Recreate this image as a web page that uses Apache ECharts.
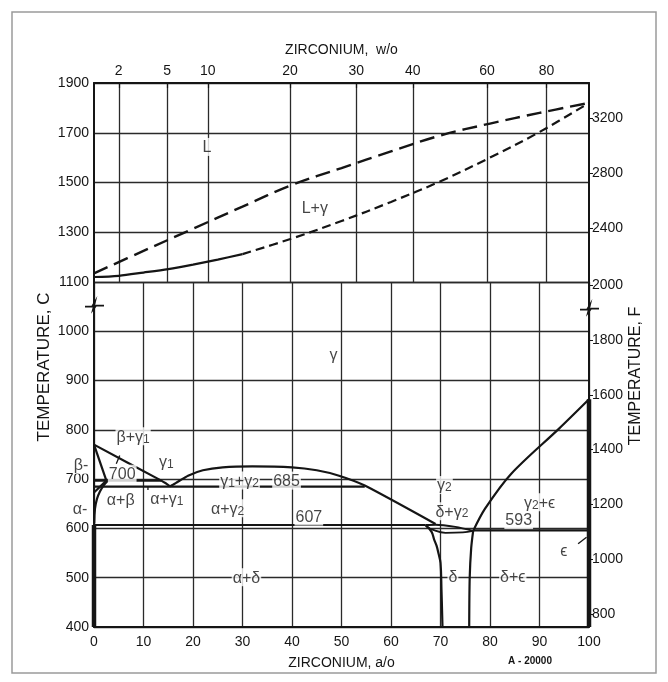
<!DOCTYPE html>
<html><head><meta charset="utf-8">
<script src="https://cdn.jsdelivr.net/npm/echarts@6/dist/echarts.min.js"></script>
<style>html,body{margin:0;padding:0;background:#fff}#c{width:668px;height:682px}</style>
</head><body><div id="c"></div>
<script>
// ---- tick data ----
const wLabels = [2, 5, 10, 20, 30, 40, 60, 80];            // weight % Zr (top axis)
const wPosAO  = [5.0, 14.8, 23, 39.6, 53, 64.4, 79.4, 91.4]; // their position in atom %
const fUpper  = [2400, 2800, 3200];                         // right axis, °F (upper part)
const fLower  = [800, 1000, 1200, 1400, 1600, 1800, 2000];  // right axis, °F (lower part)

// ---- upper part (1100-1900 C) ----
const liquidus = [[0,1135],[10,1225],[20,1314],[30,1403],[40,1490],[50,1558],[60,1625],[70,1689],[80,1737],[90,1780],[100,1820]];
const solidusSolid = [[0,1120],[5,1125],[10,1138],[15,1152],[20,1170],[25,1190],[30,1212]];
const solidusDashed = [[30,1212],[40,1275],[50,1345],[60,1422],[70,1505],[80,1600],[90,1703],[100,1820]];

// ---- lower part (400-1100 C) ----
const gammaDome = [[0,770],[13.6,697],[14.6,691],[15.4,686],[16.5,692],[19,707],[22,718],[26,724],[32,726],[40,724],[45,718],[49.5,707],[54.7,687],[69,609]];
const betaBound = [[0,770],[2.5,697]];
const alphaBound = [[0,673],[2.5,697]];
const alphaSolvus = [[0.05,610],[0.2,640],[0.6,660],[1.2,675],[2,688],[2.8,697]];
const iso700 = [[0,697],[13.6,697]];
const iso685 = [[0,685],[54.7,685]];
const iso607 = [[0,607],[67,607]];
const lensUpper = [[67,607],[69,607.5],[73,603],[76.6,595]];
const lensLower = [[67,605],[68.5,597],[71,591],[74.5,592],[76.6,595]];
const deltaLeft = [[67,607],[68.2,593],[68.7,578],[69.2,565],[69.6,549],[70,530],[70.2,475],[70.4,400]];
const deltaRight = [[76.6,595],[76.2,560],[75.9,500],[75.8,400]];
const gamma2Eps = [[76.6,595],[79,640],[84.3,711],[94,803],[100,862]];
const iso593 = [[76.6,596],[100,596]];
const alphaU = [[0,400],[0,607]];
const epsZr = [[100,400],[100,862]];
const leaderBG = [[5.2,748],[4.5,731]];
const leaderAG = [[10.9,685],[10.9,678]];
const leaderEps = [[97.8,569],[99.5,582]];

// ---- region labels [a/o, C, text]; "_n" marks a subscript ----
const upperLabels = [[22.8,1643,'L'],[44.6,1400,'L+γ']];
const lowerLabels = [
  [48.4,953,'γ'],[7.9,787,'β+γ_1'],[14.6,735,'γ_1'],[-2.6,729,'β-'],[-2.8,641,'α-'],
  [5.7,711,'700'],[5.4,658,'α+β'],[14.7,660,'α+γ_1'],[29.4,697,'γ_1+γ_2'],[38.9,697,'685'],
  [27,641,'α+γ_2'],[43.4,624,'607'],[30.8,501,'α+δ'],[70.8,688,'γ_2'],[72.3,635,'δ+γ_2'],
  [85.8,617,'593'],[90,653,'γ_2+ϵ'],[94.9,556,'ϵ'],[72.5,503,'δ'],[84.6,503,'δ+ϵ']
];

const INK = '#151515';
const FONT = 'Liberation Sans';
const chart = echarts.init(document.getElementById('c'));

function toRich(t) {
  return t.split(/(_\d)/).filter(s => s).map(s => s[0] === '_' ? '{s|' + s[1] + '}' : '{n|' + s + '}').join('');
}
function line(data, gi, opts) {
  opts = opts || {};
  return {
    type: 'line', data: data, xAxisIndex: gi, yAxisIndex: gi === 0 ? 0 : 2,
    symbol: 'none', smooth: opts.smooth || false, clip: false, silent: true,
    lineStyle: { color: INK, width: opts.width || 2.2, type: opts.type || 'solid', cap: 'butt' },
    z: 5
  };
}
function labels(data, gi, size) {
  return {
    type: 'scatter', data: data, xAxisIndex: gi, yAxisIndex: gi === 0 ? 0 : 2,
    symbolSize: 0, clip: false, silent: true, z: 10,
    label: { show: true, position: 'inside', formatter: p => toRich(p.value[2]),
      backgroundColor: '#fff', padding: [0, 1],
      rich: {
        n: { color: INK, fontFamily: FONT, fontSize: size, lineHeight: size + 2, verticalAlign: 'bottom' },
        s: { color: INK, fontFamily: FONT, fontSize: size - 4, lineHeight: size + 2, verticalAlign: 'bottom', padding: [6, 0, 0, 0] }
      } }
  };
}
const fToC = f => (f - 32) * 5 / 9;
const cToF = c => Math.round((c * 9 / 5 + 32) / 10) * 10;
const gridLine = { show: true, lineStyle: { color: '#2a2a2a', width: 1.3 } };
const axLine = { show: true, lineStyle: { color: INK, width: 2 } };
const lbl = { color: INK, fontFamily: FONT, fontSize: 14 };

chart.setOption({
  animation: false,
  grid: [
    { left: 94, right: 79, top: 83, height: 199 },
    { left: 94, right: 79, top: 282, height: 345 }
  ],
  xAxis: [
    { gridIndex: 0, type: 'value', min: 0, max: 100, interval: 10, position: 'top',
      axisLine: axLine, splitLine: gridLine,
      axisTick: { show: true, inside: true, length: 5, customValues: wPosAO, lineStyle: { color: INK, width: 1.2 } },
      axisLabel: Object.assign({ customValues: wPosAO, margin: 5,
        formatter: v => { const i = wPosAO.indexOf(v); return i >= 0 ? String(wLabels[i]) : ''; } }, lbl),
      name: 'ZIRCONIUM,  w/o', nameLocation: 'middle', nameGap: 26,
      nameTextStyle: { color: INK, fontFamily: FONT, fontSize: 14 } },
    { gridIndex: 1, type: 'value', min: 0, max: 100, interval: 10, position: 'bottom',
      axisLine: axLine, splitLine: gridLine, axisTick: { show: false },
      axisLabel: Object.assign({ margin: 8, formatter: v => String(v) }, lbl),
      name: 'ZIRCONIUM, a/o', nameLocation: 'middle', nameGap: 29,
      nameTextStyle: { color: INK, fontFamily: FONT, fontSize: 14 } }
  ],
  yAxis: [
    { gridIndex: 0, type: 'value', min: 1100, max: 1900, interval: 200, position: 'left',
      axisLine: axLine, splitLine: gridLine, axisTick: { show: false },
      axisLabel: Object.assign({ margin: 5, formatter: v => String(v) }, lbl) },
    { gridIndex: 0, type: 'value', min: 1100, max: 1900, position: 'right',
      axisLine: axLine, splitLine: { show: false },
      axisTick: { show: true, length: 4, customValues: fUpper.map(fToC), lineStyle: { color: INK } },
      axisLabel: Object.assign({ margin: 3, customValues: fUpper.map(fToC), formatter: v => String(cToF(v)) }, lbl) },
    { gridIndex: 1, type: 'value', min: 400, max: 1100, interval: 100, position: 'left',
      axisLine: axLine, splitLine: gridLine, axisTick: { show: false },
      axisLabel: Object.assign({ margin: 5, formatter: v => v >= 1100 ? '' : String(v) }, lbl) },
    { gridIndex: 1, type: 'value', min: 400, max: 1100, position: 'right',
      axisLine: axLine, splitLine: { show: false },
      axisTick: { show: true, length: 4, customValues: fLower.map(fToC), lineStyle: { color: INK } },
      axisLabel: Object.assign({ margin: 3, customValues: fLower.map(fToC), formatter: v => String(cToF(v)) }, lbl) }
  ],
  series: [
    line(liquidus, 0, { type: [15, 7], width: 2.4, smooth: 0.4 }),
    line(solidusSolid, 0, { smooth: 0.3 }),
    line(solidusDashed, 0, { type: [9, 5], width: 2.2, smooth: 0.35 }),
    line(gammaDome, 1, { smooth: 0.2 }),
    line(betaBound, 1), line(alphaBound, 1),
    line(alphaSolvus, 1, { smooth: 0.4 }),
    line(iso700, 1), line(iso685, 1), line(iso607, 1),
    line(lensUpper, 1, { smooth: 0.3, width: 1.8 }), line(lensLower, 1, { smooth: 0.4, width: 1.8 }),
    line(deltaLeft, 1, { smooth: 0.4 }), line(deltaRight, 1, { smooth: 0.3 }),
    line(gamma2Eps, 1, { smooth: 0.3 }), line(iso593, 1),
    line(alphaU, 1, { width: 4.5 }), line(epsZr, 1, { width: 4.5 }),
    line(leaderBG, 1, { width: 1.3 }), line(leaderAG, 1, { width: 1.3 }), line(leaderEps, 1, { width: 1.3 }),
    labels(upperLabels, 0, 16),
    labels(lowerLabels, 1, 16)
  ]
});

// decorations positioned from the axes
const pL = chart.convertToPixel({ xAxisIndex: 1, yAxisIndex: 2 }, [0, 1052]);
const pR = chart.convertToPixel({ xAxisIndex: 1, yAxisIndex: 2 }, [100, 1046]);
function brk(p) {
  return { type: 'polyline', silent: true, z: 20,
    shape: { points: [[p[0]-9, p[1]+1], [p[0]-2, p[1]+1], [p[0]+1, p[1]-4], [p[0]-1, p[1]+4], [p[0]+2, p[1]], [p[0]+10, p[1]]] },
    style: { stroke: INK, lineWidth: 1.8, fill: null } };
}
chart.setOption({
  graphic: [
    { type: 'rect', silent: true, shape: { x: 12, y: 12, width: 644, height: 661 },
      style: { stroke: '#9a9a9a', lineWidth: 1.5, fill: null } },
    brk(pL), brk(pR),
    { type: 'text', silent: true, x: 44, y: 367, rotation: Math.PI / 2,
      style: { text: 'TEMPERATURE, C', fill: INK, font: '17px ' + FONT, align: 'center', verticalAlign: 'middle' } },
    { type: 'text', silent: true, x: 636, y: 376, rotation: Math.PI / 2,
      style: { text: 'TEMPERATURE, F', fill: INK, font: '16px ' + FONT, align: 'center', verticalAlign: 'middle' } },
    { type: 'text', silent: true, x: 530, y: 661,
      style: { text: 'A - 20000', fill: INK, font: 'bold 10px ' + FONT, align: 'center', verticalAlign: 'middle' } }
  ]
});
</script></body></html>
